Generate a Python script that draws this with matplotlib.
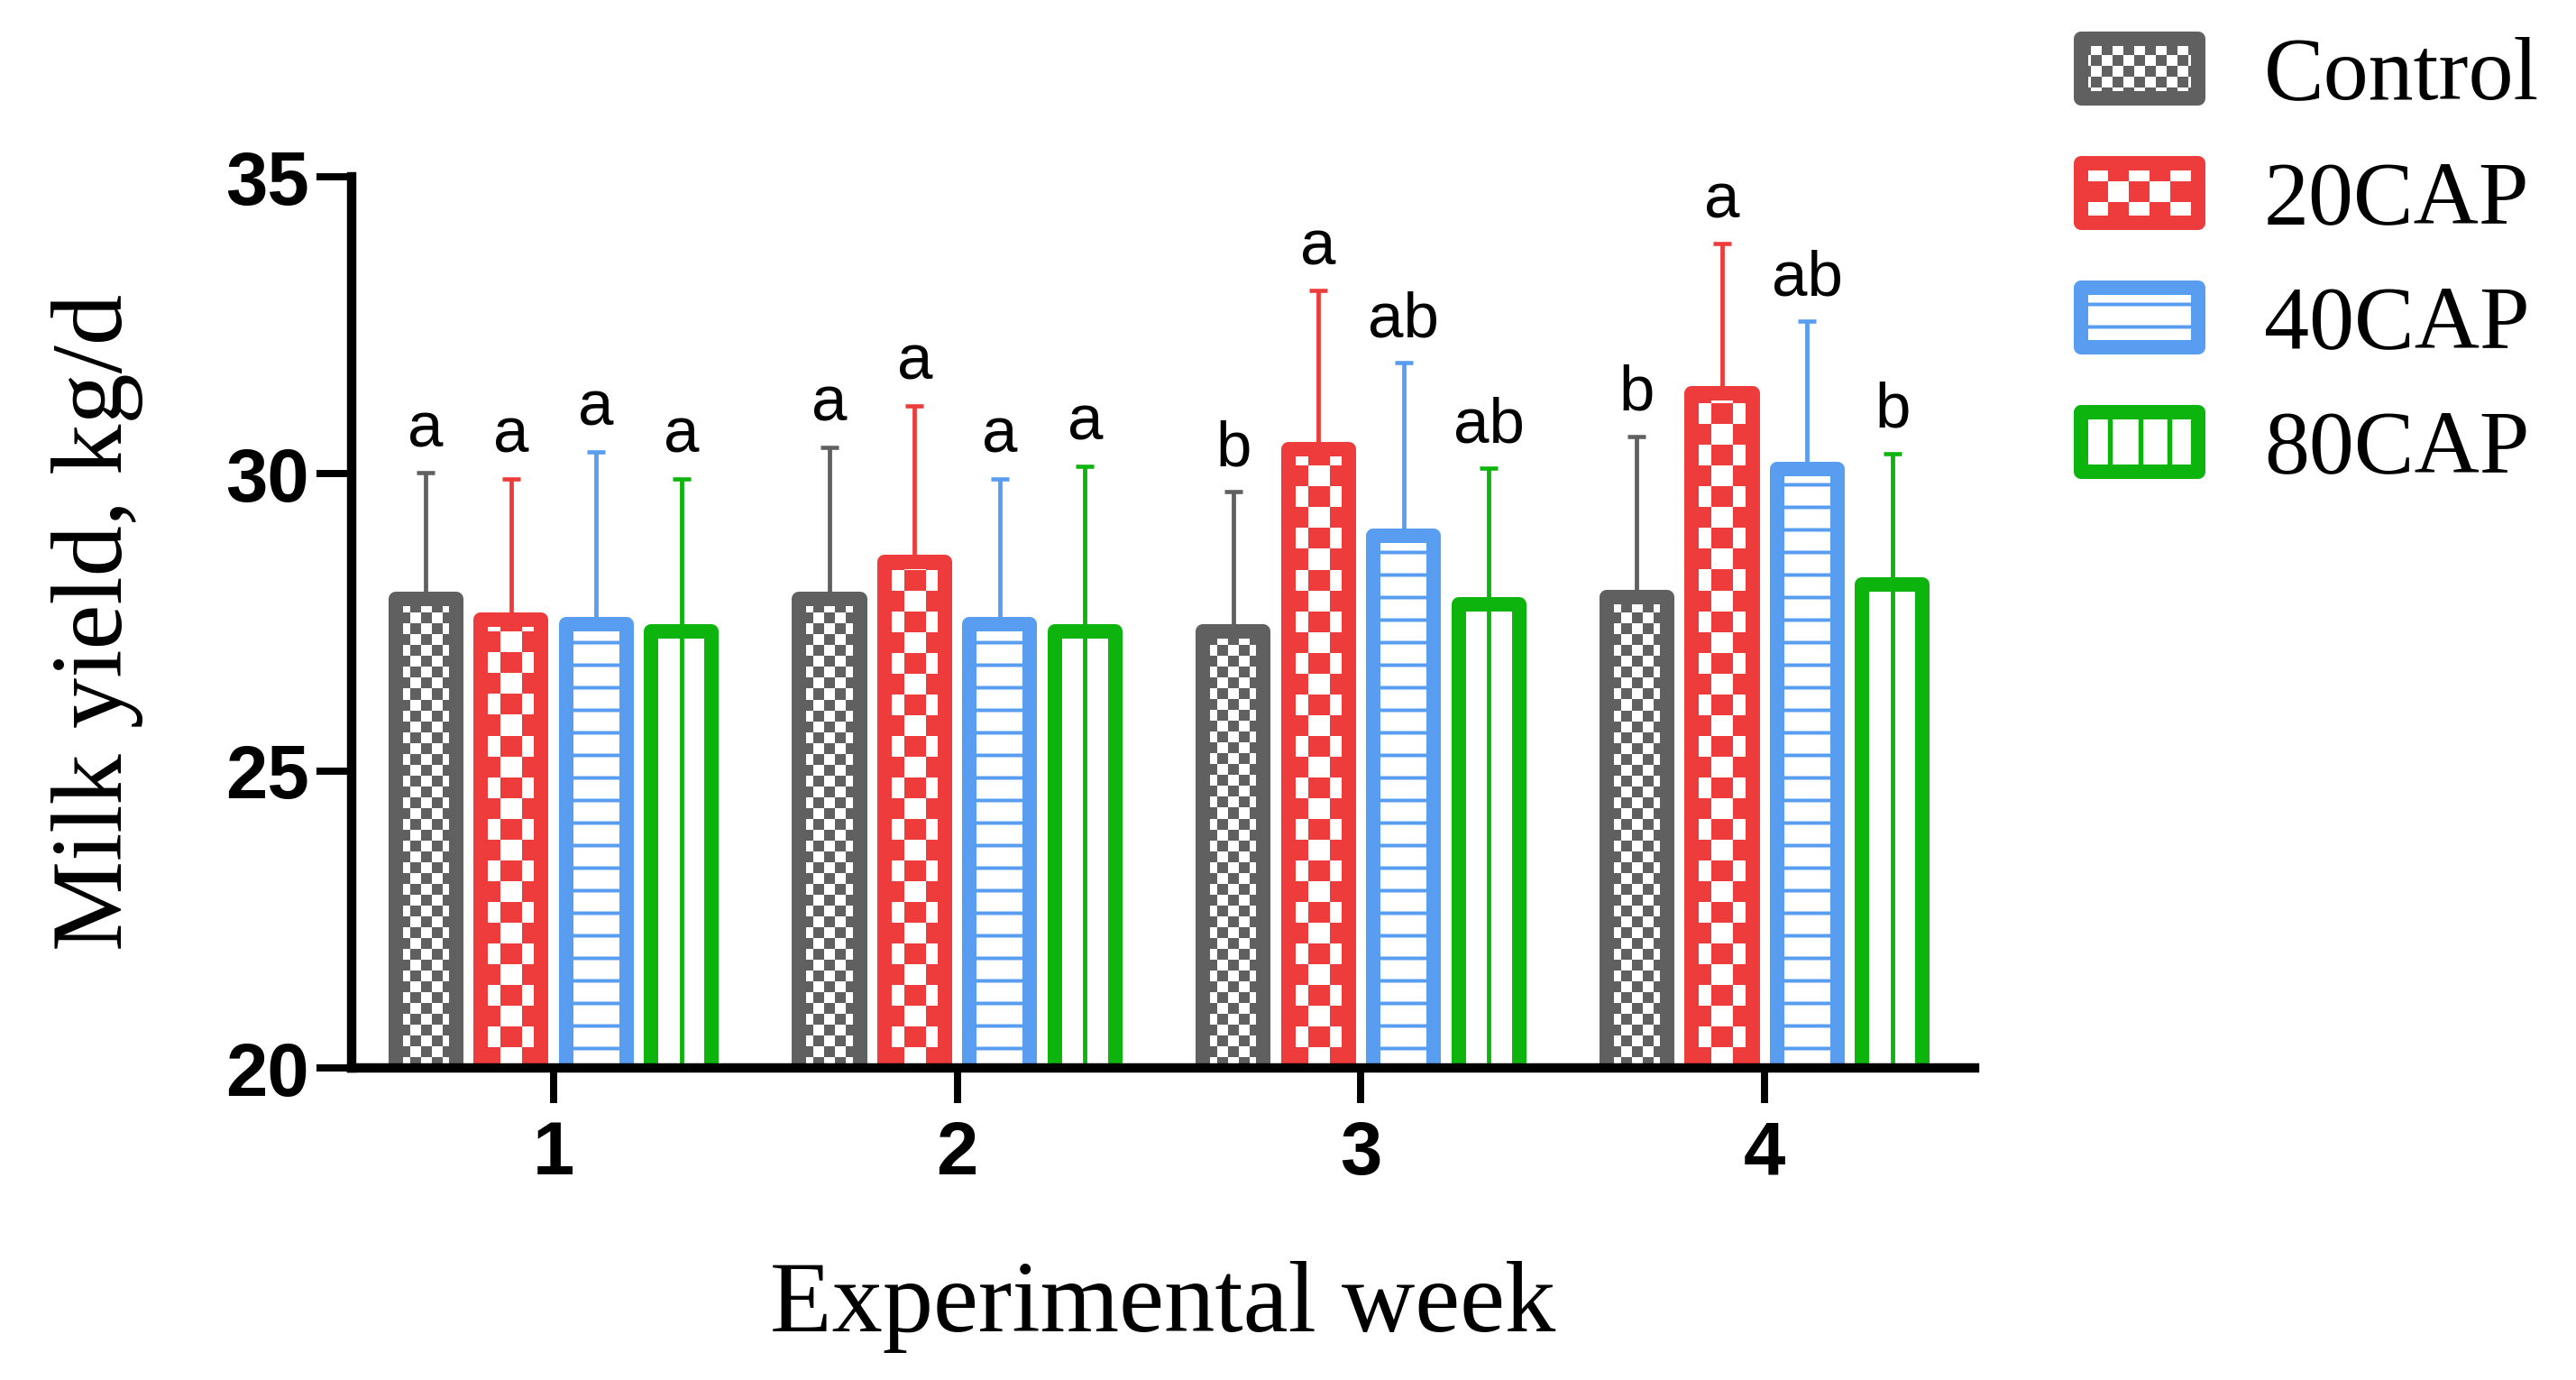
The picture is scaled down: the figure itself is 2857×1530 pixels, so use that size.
import numpy as np
import matplotlib.pyplot as plt
from matplotlib.colors import ListedColormap
from matplotlib.patches import Rectangle

# data (kg/d)
weeks = [1, 2, 3, 4]
groups = ['Control', '20CAP', '40CAP', '80CAP']
colors = ['#606060', '#EE3B3B', '#589DF0', '#0DB40D']

control = [27.90, 27.90, 27.35, 27.93]
cap20 = [27.55, 28.51, 30.42, 31.36]
cap40 = [27.47, 27.47, 28.95, 30.08]
cap80 = [27.35, 27.35, 27.81, 28.14]

sd_control = [2.12, 2.55, 2.35, 2.70]
sd_cap20 = [2.37, 2.64, 2.66, 2.51]
sd_cap40 = [2.90, 2.45, 2.92, 2.49]
sd_cap80 = [2.57, 2.78, 2.28, 2.20]

let_control = ['a', 'a', 'b', 'b']
let_cap20 = ['a', 'a', 'a', 'a']
let_cap40 = ['a', 'a', 'ab', 'ab']
let_cap80 = ['a', 'a', 'ab', 'b']

means = [control, cap20, cap40, cap80]
sds = [sd_control, sd_cap20, sd_cap40, sd_cap80]
letters = [let_control, let_cap20, let_cap40, let_cap80]

plt.rcParams['hatch.linewidth'] = 1.9

DPI = 150
W, H = 2857, 1530
fig = plt.figure(figsize=(W / DPI, H / DPI), dpi=DPI)
ax = fig.add_axes([390 / W, 1 - 1184 / H, 1800 / W, 988 / H])
ax.set_xlim(0.5, 4.52)
ax.set_ylim(20, 35)

edge_lw = 7.7
bar_w = 0.15
step = 0.211
x = np.array(weeks, dtype=float)


def checker(axis, patch, cell, color, y_low=None):
    # fill a patch with a checkerboard of `cell` pixel squares
    bx, by = patch.get_x(), patch.get_y()
    bw, bh = patch.get_width(), patch.get_height()
    if y_low is not None:
        by, bh = y_low, by + bh - y_low
    tr = axis.transData
    (px0, py0), (px1, py1) = tr.transform([[bx, by], [bx + bw, by + bh]])
    xc = (px0 + px1) / 2
    ncol = int(np.ceil(abs(px1 - px0) / cell)) + 2
    if ncol % 2 == 0:
        ncol += 1
    nrow = int(np.ceil(abs(py1 - py0) / cell)) + 1
    ylo = min(py0, py1)
    ex0, ex1 = xc - ncol * cell / 2, xc + ncol * cell / 2
    ey0, ey1 = ylo, ylo + nrow * cell
    inv = tr.inverted()
    (dx0, dy0), (dx1, dy1) = inv.transform([[ex0, ey0], [ex1, ey1]])
    img = np.add.outer(np.arange(nrow), np.arange(ncol)) % 2
    im = axis.imshow(img, cmap=ListedColormap(['white', color]),
                     extent=(dx0, dx1, dy0, dy1), origin='lower',
                     interpolation='nearest', aspect='auto', zorder=2)
    im.set_clip_path(patch)


for i, (vals, sd, col) in enumerate(zip(means, sds, colors)):
    xs = x + (i - 1.5) * step
    ax.errorbar(xs, vals, yerr=[np.zeros(len(sd)), sd], fmt='none',
                ecolor=col, elinewidth=2.3, capsize=5, capthick=2.2, zorder=2)
    hatch = '-' if i == 2 else None
    face = 'none' if i in (0, 1) else 'white'
    bars = ax.bar(xs, vals, width=bar_w, facecolor=face, edgecolor=col,
                  linewidth=edge_lw, hatch=hatch, zorder=3)
    for b in bars:
        b.set_joinstyle('round')
        if i == 0:
            checker(ax, b, 12, col, y_low=20)
        elif i == 1:
            checker(ax, b, 23, col, y_low=20)
    if i == 3:
        ax.vlines(xs, 20, vals, colors=col, linewidth=2.3, zorder=4)
    for xi, v, s, lab in zip(xs, vals, sd, letters[i]):
        ax.text(xi, v + s + 0.44, lab, ha='center', va='baseline',
                fontsize=34, family='Liberation Sans', zorder=4)

ax.set_xlim(0.5, 4.52)
ax.set_ylim(20, 35)

for side in ['top', 'right']:
    ax.spines[side].set_visible(False)
for side in ['left', 'bottom']:
    ax.spines[side].set_linewidth(5)
    ax.spines[side].set_zorder(5)

ax.set_xticks(weeks)
ax.set_yticks([20, 25, 30, 35])
ax.tick_params(axis='both', length=18.5, width=3.8, labelsize=40)
ax.tick_params(axis='x', pad=9)
ax.tick_params(axis='y', pad=4)
for label in ax.get_xticklabels() + ax.get_yticklabels():
    label.set_fontweight('bold')
    label.set_family('Liberation Sans')

ax.set_xlabel('Experimental week', fontsize=54, family='Liberation Serif', labelpad=38)
ax.set_ylabel('Milk yield, kg/d', fontsize=54, family='Liberation Serif', labelpad=44)

# legend drawn in figure pixel space
lax = fig.add_axes([0, 0, 1, 1], zorder=6)
lax.set_xlim(0, W)
lax.set_ylim(H, 0)
lax.axis('off')
lw_px = edge_lw * DPI / 72
for i, (name, col) in enumerate(zip(groups, colors)):
    top = 35 + 138 * i
    hatch = '-' if i == 2 else None
    face = 'none' if i in (0, 1) else 'white'
    r = Rectangle((2300 + lw_px / 2, top + lw_px / 2), 146 - lw_px, 82 - lw_px,
                  facecolor=face, edgecolor=col, linewidth=edge_lw,
                  hatch=hatch, joinstyle='round', zorder=3)
    lax.add_patch(r)
    if i == 0:
        checker(lax, r, 12, col)
    elif i == 1:
        checker(lax, r, 23, col)
    elif i == 3:
        lax.vlines([2340, 2374, 2406], top + lw_px / 2, top + 82 - lw_px / 2,
                   colors=col, linewidth=2.6, zorder=4)
    lax.text(2511, top + 41 + 33, name, ha='left', va='baseline',
             fontsize=48, family='Liberation Serif')
lax.set_xlim(0, W)
lax.set_ylim(H, 0)

fig.savefig('out.png', dpi=DPI)
